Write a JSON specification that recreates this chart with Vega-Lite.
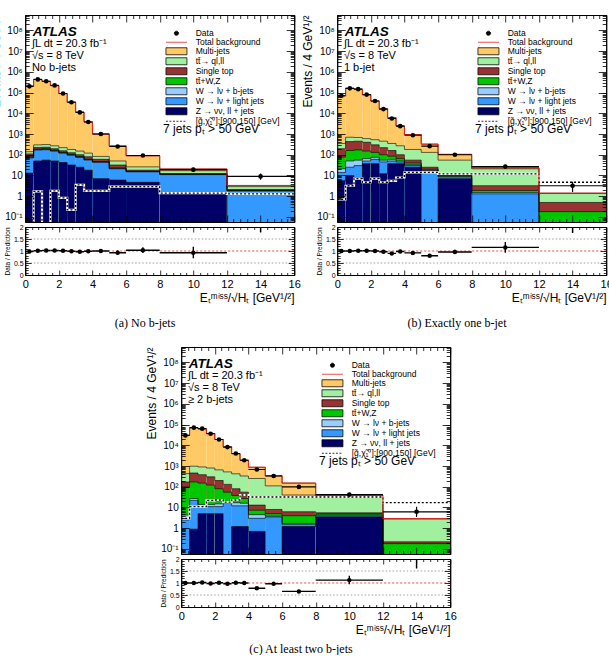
{
"$schema": "https://vega.github.io/schema/vega-lite/v6.json",
"padding": {"left": -11, "top": 10, "right": 0, "bottom": 0},
"config": {
 "font": "Liberation Sans",
 "view": {"stroke": "black", "strokeWidth": 1},
 "axis": {"grid": false, "domainColor": "black", "domainWidth": 1, "tickColor": "black", "tickWidth": 0.8, "labelColor": "black", "titleColor": "black", "labelFont": "Liberation Sans", "titleFont": "Liberation Sans", "titleFontWeight": "normal", "labelFlush": false, "labelOverlap": false, "labelBound": false},
 "legend": {"orient": "top-right", "offset": 14, "padding": 0, "labelFont": "Liberation Sans", "labelFontSize": 8.5, "labelColor": "black", "symbolSize": 49, "symbolStrokeWidth": 0.8, "symbolOpacity": 1, "rowPadding": -2.2, "labelOffset": 15, "labelLimit": 250},
 "title": {"font": "Liberation Serif", "fontSize": 12, "fontWeight": "normal", "color": "black", "anchor": "middle"}
},
"datasets": {
 "leg": [{"k":"data"},{"k":"tot"},{"k":"mj"},{"k":"tt"},{"k":"st"},{"k":"ttv"},{"k":"wb"},{"k":"wl"},{"k":"z"},{"k":"sig"}],
 "bins": [
{"p":"a","lo":0,"hi":0.5,"c":0.25,"d":200000,"dl":200000,"dh":200000,"mj":205000,"tt":140,"st":110,"ttv":80,"wb":74,"wl":70,"z":13,"s":0.05,"r":0.98,"rl":0.96,"rh":1.0},
{"p":"a","lo":0.5,"hi":1,"c":0.75,"d":430000,"dl":430000,"dh":430000,"mj":425000,"tt":300,"st":225,"ttv":188,"wb":178,"wl":170,"z":50,"s":1.7,"r":1.01,"rl":0.99,"rh":1.03},
{"p":"a","lo":1,"hi":1.5,"c":1.25,"d":350000,"dl":350000,"dh":350000,"mj":345000,"tt":310,"st":230,"ttv":195,"wb":183,"wl":175,"z":55,"s":0.05,"r":1.02,"rl":1.0,"rh":1.04},
{"p":"a","lo":1.5,"hi":2,"c":1.75,"d":220000,"dl":220000,"dh":220000,"mj":215000,"tt":270,"st":195,"ttv":165,"wb":157,"wl":150,"z":50,"s":1.8,"r":1.02,"rl":1.0,"rh":1.04},
{"p":"a","lo":2,"hi":2.5,"c":2.25,"d":90000,"dl":90000,"dh":90000,"mj":89000,"tt":220,"st":155,"ttv":130,"wb":125,"wl":120,"z":42,"s":0.83,"r":1.01,"rl":0.99,"rh":1.03},
{"p":"a","lo":2.5,"hi":3,"c":2.75,"d":34000,"dl":34000,"dh":34000,"mj":34500,"tt":180,"st":125,"ttv":103,"wb":99,"wl":95,"z":32,"s":0.22,"r":0.99,"rl":0.97,"rh":1.01},
{"p":"a","lo":3,"hi":3.5,"c":3.25,"d":11000,"dl":11000,"dh":11000,"mj":11300,"tt":150,"st":100,"ttv":81,"wb":78,"wl":75,"z":25,"s":3.5,"r":0.97,"rl":0.95,"rh":0.99},
{"p":"a","lo":3.5,"hi":4,"c":3.75,"d":3800,"dl":3800,"dh":3800,"mj":3850,"tt":120,"st":80,"ttv":61,"wb":58,"wl":56,"z":18,"s":1.8,"r":0.99,"rl":0.96,"rh":1.02},
{"p":"a","lo":4,"hi":5,"c":4.5,"d":1000,"dl":970,"dh":1030,"mj":1000,"tt":83,"st":60,"ttv":47,"wb":45,"wl":43,"z":7,"s":1.8,"r":1.0,"rl":0.96,"rh":1.04},
{"p":"a","lo":5,"hi":6,"c":5.5,"d":250,"dl":235,"dh":266,"mj":268,"tt":50,"st":32,"ttv":23,"wb":22,"wl":21,"z":6,"s":2.9,"r":0.93,"rl":0.85,"rh":1.02},
{"p":"a","lo":6,"hi":8,"c":7,"d":92,"dl":82,"dh":102,"mj":89,"tt":26,"st":18,"ttv":16,"wb":15.5,"wl":15,"z":4.7,"s":2.9,"r":1.03,"rl":0.92,"rh":1.16},
{"p":"a","lo":8,"hi":12,"c":10,"d":19,"dl":15,"dh":23.5,"mj":20.5,"tt":17,"st":12.3,"ttv":11.6,"wb":11.3,"wl":11,"z":1.4,"s":1.4,"r":0.93,"rl":0.7,"rh":1.18},
{"p":"a","lo":12,"hi":16,"c":14,"d":9,"dl":6.2,"dh":12.6,"mj":3.3,"tt":2.9,"st":2.1,"ttv":1.9,"wb":1.85,"wl":1.8,"z":0.01,"s":1.3,"r":2.7,"rl":1.78,"rh":3.9},
{"p":"b","lo":0,"hi":0.5,"c":0.25,"d":70000,"dl":70000,"dh":70000,"mj":70000,"tt":350,"st":195,"ttv":77,"wb":21,"wl":14,"z":5.6,"s":0.7,"r":1.0,"rl":0.98,"rh":1.02},
{"p":"b","lo":0.5,"hi":1,"c":0.75,"d":160000,"dl":160000,"dh":160000,"mj":160000,"tt":700,"st":430,"ttv":160,"wb":50,"wl":25,"z":10,"s":3.2,"r":1.0,"rl":0.98,"rh":1.02},
{"p":"b","lo":1,"hi":1.5,"c":1.25,"d":145000,"dl":145000,"dh":145000,"mj":144000,"tt":680,"st":450,"ttv":170,"wb":55,"wl":30,"z":8,"s":7,"r":1.01,"rl":0.99,"rh":1.03},
{"p":"b","lo":1.5,"hi":2,"c":1.75,"d":80000,"dl":80000,"dh":80000,"mj":79000,"tt":600,"st":400,"ttv":150,"wb":65,"wl":50,"z":37,"s":4.7,"r":1.01,"rl":0.99,"rh":1.03},
{"p":"b","lo":2,"hi":2.5,"c":2.25,"d":39000,"dl":39000,"dh":39000,"mj":39000,"tt":530,"st":300,"ttv":130,"wb":75,"wl":60,"z":37,"s":7,"r":1.0,"rl":0.98,"rh":1.02},
{"p":"b","lo":2.5,"hi":3,"c":2.75,"d":16000,"dl":16000,"dh":16000,"mj":16500,"tt":450,"st":220,"ttv":100,"wb":55,"wl":45,"z":12,"s":4.7,"r":0.97,"rl":0.95,"rh":0.99},
{"p":"b","lo":3,"hi":3.5,"c":3.25,"d":5600,"dl":5600,"dh":5600,"mj":6200,"tt":350,"st":160,"ttv":85,"wb":60,"wl":50,"z":37,"s":5.5,"r":0.9,"rl":0.88,"rh":0.92},
{"p":"b","lo":3.5,"hi":4,"c":3.75,"d":2400,"dl":2400,"dh":2400,"mj":2450,"tt":270,"st":100,"ttv":65,"wb":50,"wl":45,"z":37,"s":8,"r":0.98,"rl":0.95,"rh":1.01},
{"p":"b","lo":4,"hi":5,"c":4.5,"d":870,"dl":840,"dh":900,"mj":945,"tt":180,"st":55,"ttv":40,"wb":33,"wl":30,"z":25,"s":14,"r":0.92,"rl":0.88,"rh":0.96},
{"p":"b","lo":5,"hi":6,"c":5.5,"d":260,"dl":245,"dh":276,"mj":325,"tt":130,"st":25,"ttv":20,"wb":18,"wl":17,"z":0.01,"s":14,"r":0.8,"rl":0.75,"rh":0.85},
{"p":"b","lo":6,"hi":8,"c":7,"d":100,"dl":90,"dh":110,"mj":104,"tt":55,"st":12,"ttv":10,"wb":9,"wl":8.5,"z":7,"s":12,"r":0.96,"rl":0.88,"rh":1.05},
{"p":"b","lo":8,"hi":12,"c":10,"d":27,"dl":22,"dh":33,"mj":23.5,"tt":21,"st":3.2,"ttv":1.9,"wb":1.5,"wl":1.3,"z":0.01,"s":12,"r":1.15,"rl":0.93,"rh":1.38},
{"p":"b","lo":12,"hi":16,"c":14,"d":3.2,"dl":1.6,"dh":5,"mj":1.4,"tt":1.35,"st":0.5,"ttv":0.18,"wb":0.01,"wl":0.01,"z":0.01,"s":4.7,"r":2.3,"rl":1.75,"rh":3.5},
{"p":"c","lo":0,"hi":0.5,"c":0.25,"d":30000,"dl":30000,"dh":30000,"mj":30000,"tt":430,"st":170,"ttv":98,"wb":4.3,"wl":2.5,"z":0.01,"s":3,"r":1.0,"rl":0.98,"rh":1.02},
{"p":"c","lo":0.5,"hi":1,"c":0.75,"d":71000,"dl":71000,"dh":71000,"mj":71000,"tt":980,"st":460,"ttv":170,"wb":27,"wl":22,"z":0.9,"s":11,"r":1.0,"rl":0.98,"rh":1.02},
{"p":"c","lo":1,"hi":1.5,"c":1.25,"d":63000,"dl":63000,"dh":63000,"mj":62000,"tt":900,"st":380,"ttv":150,"wb":14,"wl":11,"z":5,"s":11,"r":1.02,"rl":1.0,"rh":1.04},
{"p":"c","lo":1.5,"hi":2,"c":1.75,"d":36000,"dl":36000,"dh":36000,"mj":37000,"tt":800,"st":300,"ttv":120,"wb":14,"wl":11,"z":5,"s":22,"r":0.98,"rl":0.96,"rh":1.0},
{"p":"c","lo":2,"hi":2.5,"c":2.25,"d":19000,"dl":19000,"dh":19000,"mj":19000,"tt":650,"st":200,"ttv":80,"wb":15,"wl":11,"z":5,"s":23,"r":1.01,"rl":0.99,"rh":1.03},
{"p":"c","lo":2.5,"hi":3,"c":2.75,"d":8200,"dl":8200,"dh":8200,"mj":8400,"tt":520,"st":130,"ttv":55,"wb":19,"wl":16,"z":0.01,"s":18,"r":0.97,"rl":0.95,"rh":0.99},
{"p":"c","lo":3,"hi":3.5,"c":3.25,"d":4000,"dl":4000,"dh":4000,"mj":4000,"tt":420,"st":80,"ttv":38,"wb":17,"wl":12,"z":1.2,"s":23,"r":1.01,"rl":0.98,"rh":1.04},
{"p":"c","lo":3.5,"hi":4,"c":3.75,"d":1900,"dl":1900,"dh":1900,"mj":1900,"tt":330,"st":55,"ttv":27,"wb":16,"wl":12,"z":1.2,"s":40,"r":1.0,"rl":0.97,"rh":1.03},
{"p":"c","lo":4,"hi":5,"c":4.5,"d":680,"dl":655,"dh":705,"mj":870,"tt":250,"st":13,"ttv":7.4,"wb":4.5,"wl":3,"z":0.7,"s":32,"r":0.78,"rl":0.75,"rh":0.81},
{"p":"c","lo":5,"hi":6,"c":5.5,"d":330,"dl":312,"dh":348,"mj":340,"tt":110,"st":8,"ttv":5,"wb":3.8,"wl":3.5,"z":0.01,"s":32,"r":0.97,"rl":0.93,"rh":1.01},
{"p":"c","lo":6,"hi":8,"c":7,"d":98,"dl":89,"dh":108,"mj":150,"tt":40,"st":6.2,"ttv":4,"wb":1.7,"wl":1.5,"z":1.2,"s":32,"r":0.65,"rl":0.61,"rh":0.69},
{"p":"c","lo":8,"hi":12,"c":10,"d":42,"dl":35.5,"dh":48.5,"mj":37.5,"tt":37,"st":5.5,"ttv":4.8,"wb":4.2,"wl":3.8,"z":3.5,"s":32,"r":1.12,"rl":0.95,"rh":1.3},
{"p":"c","lo":12,"hi":16,"c":14,"d":6.2,"dl":3.5,"dh":10.7,"mj":2.9,"tt":2.8,"st":0.22,"ttv":0.18,"wb":0.01,"wl":0.01,"z":0.01,"s":17,"r":2.1,"rl":1.6,"rh":3.4}
 ]
},
"spacing": 13, "center": true,
"resolve": {"scale": {"x": "independent", "y": "independent", "fill": "independent", "stroke": "independent", "shape": "independent", "strokeDash": "independent"}, "legend": {"fill": "independent", "stroke": "independent", "shape": "independent", "strokeDash": "independent"}},
"vconcat": [
{"hconcat": [
{"title": {"text": "(a)  No b-jets", "orient": "bottom", "offset": 14, "anchor": "middle"},
 "spacing": 5, "bounds": "flush",
 "resolve": {"scale": {"x": "independent", "y": "independent", "fill": "independent", "stroke": "independent", "shape": "independent", "strokeDash": "independent"}, "legend": {"fill": "independent", "stroke": "independent", "shape": "independent", "strokeDash": "independent"}},
 "vconcat": [
 {"width": 269, "height": 207,
  "resolve": {"axis": {"x": "independent", "y": "independent"}},
  "layer": [
   {"data": {"name": "bins"}, "transform": [{"filter": "datum.p=='a'"}, {"fold": ["mj","tt","st","ttv","wb","wl","z"], "as": ["k","v"]}],
    "mark": {"type": "rect", "clip": true},
    "encoding": {
     "x": {"field": "lo", "type": "quantitative", "scale": {"domain": [0,16], "nice": false, "zero": false}, "axis": {"orient": "bottom", "zindex": 1, "values": [0,0.4,0.8,1.2,1.6,2,2.4,2.8,3.2,3.6,4,4.4,4.8,5.2,5.6,6,6.4,6.8,7.2,7.6,8,8.4,8.8,9.2,9.6,10,10.4,10.8,11.2,11.6,12,12.4,12.8,13.2,13.6,14,14.4,14.8,15.2,15.6,16], "labels": false, "title": null, "tickSize": {"condition": {"test": "abs(datum.value/2-round(datum.value/2))<0.01", "value": -7}, "value": -3.5}}},
     "x2": {"field": "hi"},
     "y": {"field": "v", "type": "quantitative", "scale": {"type": "log", "domain": [0.057, 550000000], "nice": false}, "axis": {"orient": "left", "zindex": 1, "values": [0.06,0.07,0.08,0.09,0.1,0.2,0.3,0.4,0.5,0.6,0.7,0.8,0.9,1,2,3,4,5,6,7,8,9,10,20,30,40,50,60,70,80,90,100,200,300,400,500,600,700,800,900,1000,2000,3000,4000,5000,6000,7000,8000,9000,10000,20000,30000,40000,50000,60000,70000,80000,90000,100000,200000,300000,400000,500000,600000,700000,800000,900000,1000000,2000000,3000000,4000000,5000000,6000000,7000000,8000000,9000000,10000000,20000000,30000000,40000000,50000000,60000000,70000000,80000000,90000000,100000000,200000000,300000000,400000000,500000000], "labelExpr": "abs(log(datum.value)/LN10-round(log(datum.value)/LN10))>0.001 ? '' : round(log(datum.value)/LN10)==0 ? '1' : round(log(datum.value)/LN10)==1 ? '10' : round(log(datum.value)/LN10)==-1 ? '10⁻¹' : '10'+['⁰','¹','²','³','⁴','⁵','⁶','⁷','⁸','⁹'][round(log(datum.value)/LN10)]", "labelFontSize": 10, "labelPadding": 11, "tickSize": {"condition": {"test": "abs(log(datum.value)/LN10-round(log(datum.value)/LN10))<0.001", "value": -8}, "value": -4}, "title": "Events / 4 GeV¹/²", "titleAnchor": "end", "titleFontSize": 12, "titlePadding": 2}},
     "y2": {"datum": 0.01},
     "fill": {"field": "k", "type": "nominal", "scale": {"domain": ["data","tot","mj","tt","st","ttv","wb","wl","z","sig"], "range": ["black","transparent","#FFCA66","#A0F0A0","#993333","#00C800","#99CCFF","#3399FF","#000066","transparent"]}, "legend": {"title": null, "labelExpr": "{'data':'Data','tot':'Total background','mj':'Multi-jets','tt':'tt̄→ ql,ll','st':'Single top','ttv':'tt̄+W,Z','wb':'W → lν + b-jets','wl':'W → lν + light jets','z':'Z → νν, ll + jets','sig':'[g̃,χ̃₁⁰]:[900,150] [GeV]'}[datum.label]"}}
    }},
   {"data": {"name": "bins"}, "transform": [{"filter": "datum.p=='a'"}, {"fold": ["mj","tt","st","ttv","wb","wl","z"], "as": ["k","v"]}, {"fold": ["lo","hi"], "as": ["e","xv"]}],
    "mark": {"type": "line", "clip": true, "color": "black", "strokeWidth": 0.6},
    "encoding": {
     "x": {"field": "xv", "type": "quantitative", "scale": {"domain": [0,16], "nice": false, "zero": false}, "axis": {"orient": "top", "zindex": 1, "values": [0,0.4,0.8,1.2,1.6,2,2.4,2.8,3.2,3.6,4,4.4,4.8,5.2,5.6,6,6.4,6.8,7.2,7.6,8,8.4,8.8,9.2,9.6,10,10.4,10.8,11.2,11.6,12,12.4,12.8,13.2,13.6,14,14.4,14.8,15.2,15.6,16], "labels": false, "title": null, "tickSize": {"condition": {"test": "abs(datum.value/2-round(datum.value/2))<0.01", "value": -7}, "value": -3.5}}},
     "y": {"field": "v", "type": "quantitative", "scale": {"type": "log", "domain": [0.057, 550000000], "nice": false}, "axis": {"orient": "right", "zindex": 1, "values": [0.06,0.07,0.08,0.09,0.1,0.2,0.3,0.4,0.5,0.6,0.7,0.8,0.9,1,2,3,4,5,6,7,8,9,10,20,30,40,50,60,70,80,90,100,200,300,400,500,600,700,800,900,1000,2000,3000,4000,5000,6000,7000,8000,9000,10000,20000,30000,40000,50000,60000,70000,80000,90000,100000,200000,300000,400000,500000,600000,700000,800000,900000,1000000,2000000,3000000,4000000,5000000,6000000,7000000,8000000,9000000,10000000,20000000,30000000,40000000,50000000,60000000,70000000,80000000,90000000,100000000,200000000,300000000,400000000,500000000], "labels": false, "title": null, "tickSize": {"condition": {"test": "abs(log(datum.value)/LN10-round(log(datum.value)/LN10))<0.001", "value": -8}, "value": -4}}},
     "detail": {"field": "k"},
     "order": [{"field": "lo", "type": "quantitative"}, {"field": "xv", "type": "quantitative"}]
    }},
   {"data": {"name": "bins"}, "transform": [{"filter": "datum.p=='a'"}, {"fold": ["lo","hi"], "as": ["e","xv"]}],
    "mark": {"type": "line", "clip": true, "color": "white", "strokeWidth": 2.2},
    "encoding": {"x": {"field": "xv", "type": "quantitative", "axis": null}, "y": {"field": "s", "type": "quantitative", "axis": null}, "order": [{"field": "lo", "type": "quantitative"}, {"field": "xv", "type": "quantitative"}]}},
   {"data": {"name": "bins"}, "transform": [{"filter": "datum.p=='a'"}, {"fold": ["lo","hi"], "as": ["e","xv"]}],
    "mark": {"type": "line", "clip": true, "color": "black", "strokeWidth": 1.3, "strokeDash": [2,2]},
    "encoding": {"x": {"field": "xv", "type": "quantitative", "axis": null}, "y": {"field": "s", "type": "quantitative", "axis": null}, "order": [{"field": "lo", "type": "quantitative"}, {"field": "xv", "type": "quantitative"}]}},
   {"data": {"name": "bins"}, "transform": [{"filter": "datum.p=='a'"}, {"fold": ["lo","hi"], "as": ["e","xv"]}],
    "mark": {"type": "line", "clip": true, "color": "#E8201A", "strokeWidth": 1},
    "encoding": {"x": {"field": "xv", "type": "quantitative", "axis": null}, "y": {"field": "mj", "type": "quantitative", "axis": null}, "order": [{"field": "lo", "type": "quantitative"}, {"field": "xv", "type": "quantitative"}]}},
   {"data": {"name": "bins"}, "transform": [{"filter": "datum.p=='a'"}],
    "mark": {"type": "rule", "clip": true, "color": "black", "strokeWidth": 1.2},
    "encoding": {"x": {"field": "lo", "type": "quantitative", "axis": null}, "x2": {"field": "hi"}, "y": {"field": "d", "type": "quantitative", "axis": null}}},
   {"data": {"name": "bins"}, "transform": [{"filter": "datum.p=='a'"}],
    "mark": {"type": "rule", "clip": true, "color": "black", "strokeWidth": 1.2},
    "encoding": {"x": {"field": "c", "type": "quantitative", "axis": null}, "y": {"field": "dl", "type": "quantitative", "axis": null}, "y2": {"field": "dh"}}},
   {"data": {"name": "bins"}, "transform": [{"filter": "datum.p=='a'"}],
    "mark": {"type": "point", "clip": true, "filled": true, "color": "black", "opacity": 1, "size": 22},
    "encoding": {"x": {"field": "c", "type": "quantitative", "axis": null}, "y": {"field": "d", "type": "quantitative", "axis": null}}},
   {"data": {"name": "leg"},
    "mark": {"type": "point", "clip": true, "filled": true},
    "encoding": {
     "x": {"datum": -5, "type": "quantitative", "axis": null}, "y": {"datum": 1, "type": "quantitative", "axis": null},
     "fill": {"field": "k", "type": "nominal", "scale": {"domain": ["data","tot","mj","tt","st","ttv","wb","wl","z","sig"], "range": ["black","transparent","#FFCA66","#A0F0A0","#993333","#00C800","#99CCFF","#3399FF","#000066","transparent"]}, "legend": {"title": null, "labelExpr": "{'data':'Data','tot':'Total background','mj':'Multi-jets','tt':'tt̄→ ql,ll','st':'Single top','ttv':'tt̄+W,Z','wb':'W → lν + b-jets','wl':'W → lν + light jets','z':'Z → νν, ll + jets','sig':'[g̃,χ̃₁⁰]:[900,150] [GeV]'}[datum.label]"}},
     "stroke": {"field": "k", "type": "nominal", "scale": {"domain": ["data","tot","mj","tt","st","ttv","wb","wl","z","sig"], "range": ["black","#E8201A","black","black","black","black","black","black","black","black"]}, "legend": {"title": null, "labelExpr": "{'data':'Data','tot':'Total background','mj':'Multi-jets','tt':'tt̄→ ql,ll','st':'Single top','ttv':'tt̄+W,Z','wb':'W → lν + b-jets','wl':'W → lν + light jets','z':'Z → νν, ll + jets','sig':'[g̃,χ̃₁⁰]:[900,150] [GeV]'}[datum.label]"}},
     "shape": {"field": "k", "type": "nominal", "scale": {"domain": ["data","tot","mj","tt","st","ttv","wb","wl","z","sig"], "range": ["M0,-0.6A0.6,0.6,0,1,1,0,0.6A0.6,0.6,0,1,1,0,-0.6Z","M-3,0H3","M-3,-1H3V1H-3Z","M-3,-1H3V1H-3Z","M-3,-1H3V1H-3Z","M-3,-1H3V1H-3Z","M-3,-1H3V1H-3Z","M-3,-1H3V1H-3Z","M-3,-1H3V1H-3Z","M-3,0H3"]}, "legend": {"title": null, "labelExpr": "{'data':'Data','tot':'Total background','mj':'Multi-jets','tt':'tt̄→ ql,ll','st':'Single top','ttv':'tt̄+W,Z','wb':'W → lν + b-jets','wl':'W → lν + light jets','z':'Z → νν, ll + jets','sig':'[g̃,χ̃₁⁰]:[900,150] [GeV]'}[datum.label]"}},
     "strokeDash": {"field": "k", "type": "nominal", "scale": {"domain": ["data","tot","mj","tt","st","ttv","wb","wl","z","sig"], "range": [[1,0],[1,0],[1,0],[1,0],[1,0],[1,0],[1,0],[1,0],[1,0],[2,1.5]]}, "legend": {"title": null, "labelExpr": "{'data':'Data','tot':'Total background','mj':'Multi-jets','tt':'tt̄→ ql,ll','st':'Single top','ttv':'tt̄+W,Z','wb':'W → lν + b-jets','wl':'W → lν + light jets','z':'Z → νν, ll + jets','sig':'[g̃,χ̃₁⁰]:[900,150] [GeV]'}[datum.label]"}}
    }},
   {"data": {"values": [{}]}, "mark": {"type": "text", "align": "left", "baseline": "middle", "fontSize": 13.5, "fontWeight": "bold", "fontStyle": "italic"},
    "encoding": {"x": {"datum": 0.45, "type": "quantitative", "axis": null}, "y": {"datum": 80000000, "type": "quantitative", "axis": null}, "text": {"value": "ATLAS"}}},
   {"data": {"values": [{}]}, "mark": {"type": "text", "align": "left", "baseline": "middle", "fontSize": 11},
    "encoding": {"x": {"datum": 0.4, "type": "quantitative", "axis": null}, "y": {"datum": 21000000, "type": "quantitative", "axis": null}, "text": {"value": "∫L dt = 20.3 fb⁻¹"}}},
   {"data": {"values": [{}]}, "mark": {"type": "text", "align": "left", "baseline": "middle", "fontSize": 11},
    "encoding": {"x": {"datum": 0.4, "type": "quantitative", "axis": null}, "y": {"datum": 5500000, "type": "quantitative", "axis": null}, "text": {"value": "√s = 8 TeV"}}},
   {"data": {"values": [{}]}, "mark": {"type": "text", "align": "left", "baseline": "middle", "fontSize": 11},
    "encoding": {"x": {"datum": 0.4, "type": "quantitative", "axis": null}, "y": {"datum": 1600000, "type": "quantitative", "axis": null}, "text": {"value": "No b-jets"}}},
   {"data": {"values": [{}]}, "mark": {"type": "text", "align": "left", "baseline": "middle", "fontSize": 12},
    "encoding": {"x": {"datum": 8.2, "type": "quantitative", "axis": null}, "y": {"datum": 1700, "type": "quantitative", "axis": null}, "text": {"value": "7 jets pₜ > 50 GeV"}}}
  ]},
 {"width": 269, "height": 48,
  "resolve": {"axis": {"x": "independent", "y": "independent"}},
  "layer": [
   {"data": {"values": [{}]}, "mark": {"type": "rule", "color": "#777777", "strokeWidth": 0.7, "strokeDash": [1.5,2]},
    "encoding": {"y": {"datum": 0.5, "type": "quantitative", "scale": {"domain": [0,2], "nice": false, "zero": false}, "axis": null}}},
   {"data": {"values": [{}]}, "mark": {"type": "rule", "color": "#777777", "strokeWidth": 0.7, "strokeDash": [1.5,2]},
    "encoding": {"y": {"datum": 1.5, "type": "quantitative", "axis": null}}},
   {"data": {"values": [{}]}, "mark": {"type": "rule", "color": "#E8201A", "strokeWidth": 0.8, "strokeDash": [2,2]},
    "encoding": {"y": {"datum": 1, "type": "quantitative", "axis": null}}},
   {"data": {"name": "bins"}, "transform": [{"filter": "datum.p=='a'"}],
    "mark": {"type": "rule", "clip": true, "color": "black", "strokeWidth": 1.4},
    "encoding": {
     "x": {"field": "lo", "type": "quantitative", "scale": {"domain": [0,16], "nice": false, "zero": false}, "axis": {"orient": "bottom", "zindex": 1, "values": [0,0.4,0.8,1.2,1.6,2,2.4,2.8,3.2,3.6,4,4.4,4.8,5.2,5.6,6,6.4,6.8,7.2,7.6,8,8.4,8.8,9.2,9.6,10,10.4,10.8,11.2,11.6,12,12.4,12.8,13.2,13.6,14,14.4,14.8,15.2,15.6,16], "labelExpr": "abs(datum.value/2-round(datum.value/2))<0.01 ? format(datum.value,'d') : ''", "labelFontSize": 11, "labelPadding": 8, "tickSize": {"condition": {"test": "abs(datum.value/2-round(datum.value/2))<0.01", "value": -5}, "value": -2.5}, "title": "Eₜᵐⁱˢˢ/√Hₜ [GeV¹/²]", "titleAnchor": "end", "titleFontSize": 12, "titlePadding": 1}},
     "x2": {"field": "hi"},
     "y": {"field": "r", "type": "quantitative", "scale": {"domain": [0,2], "nice": false, "zero": false}, "axis": {"orient": "left", "zindex": 1, "values": [0,0.1,0.2,0.3,0.4,0.5,0.6,0.7,0.8,0.9,1,1.1,1.2,1.3,1.4,1.5,1.6,1.7,1.8,1.9,2], "labelExpr": "abs(datum.value*2-round(datum.value*2))<0.01 ? format(datum.value,'~g') : ''", "labelFontSize": 7, "labelPadding": 8, "tickSize": {"condition": {"test": "abs(datum.value*2-round(datum.value*2))<0.01", "value": -6}, "value": -3}, "title": "Data / Prediction", "titleFontSize": 6.5, "titlePadding": 3}}
    }},
   {"data": {"name": "bins"}, "transform": [{"filter": "datum.p=='a'"}],
    "mark": {"type": "rule", "clip": true, "color": "black", "strokeWidth": 1.4},
    "encoding": {
     "x": {"field": "c", "type": "quantitative", "axis": {"orient": "top", "zindex": 1, "values": [0,0.4,0.8,1.2,1.6,2,2.4,2.8,3.2,3.6,4,4.4,4.8,5.2,5.6,6,6.4,6.8,7.2,7.6,8,8.4,8.8,9.2,9.6,10,10.4,10.8,11.2,11.6,12,12.4,12.8,13.2,13.6,14,14.4,14.8,15.2,15.6,16], "labels": false, "title": null, "tickSize": {"condition": {"test": "abs(datum.value/2-round(datum.value/2))<0.01", "value": -5}, "value": -2.5}}},
     "y": {"field": "rl", "type": "quantitative", "axis": {"orient": "right", "zindex": 1, "values": [0,0.1,0.2,0.3,0.4,0.5,0.6,0.7,0.8,0.9,1,1.1,1.2,1.3,1.4,1.5,1.6,1.7,1.8,1.9,2], "labels": false, "title": null, "tickSize": {"condition": {"test": "abs(datum.value*2-round(datum.value*2))<0.01", "value": -6}, "value": -3}}},
     "y2": {"field": "rh"}
    }},
   {"data": {"name": "bins"}, "transform": [{"filter": "datum.p=='a'"}],
    "mark": {"type": "point", "clip": true, "filled": true, "color": "black", "opacity": 1, "size": 20},
    "encoding": {"x": {"field": "c", "type": "quantitative", "axis": null}, "y": {"field": "r", "type": "quantitative", "axis": null}}}
  ]}
 ]},
{"title": {"text": "(b)  Exactly one b-jet", "orient": "bottom", "offset": 14, "anchor": "middle"},
 "spacing": 5, "bounds": "flush",
 "resolve": {"scale": {"x": "independent", "y": "independent", "fill": "independent", "stroke": "independent", "shape": "independent", "strokeDash": "independent"}, "legend": {"fill": "independent", "stroke": "independent", "shape": "independent", "strokeDash": "independent"}},
 "vconcat": [
 {"width": 269, "height": 207,
  "resolve": {"axis": {"x": "independent", "y": "independent"}},
  "layer": [
   {"data": {"name": "bins"}, "transform": [{"filter": "datum.p=='b'"}, {"fold": ["mj","tt","st","ttv","wb","wl","z"], "as": ["k","v"]}],
    "mark": {"type": "rect", "clip": true},
    "encoding": {
     "x": {"field": "lo", "type": "quantitative", "scale": {"domain": [0,16], "nice": false, "zero": false}, "axis": {"orient": "bottom", "zindex": 1, "values": [0,0.4,0.8,1.2,1.6,2,2.4,2.8,3.2,3.6,4,4.4,4.8,5.2,5.6,6,6.4,6.8,7.2,7.6,8,8.4,8.8,9.2,9.6,10,10.4,10.8,11.2,11.6,12,12.4,12.8,13.2,13.6,14,14.4,14.8,15.2,15.6,16], "labels": false, "title": null, "tickSize": {"condition": {"test": "abs(datum.value/2-round(datum.value/2))<0.01", "value": -7}, "value": -3.5}}},
     "x2": {"field": "hi"},
     "y": {"field": "v", "type": "quantitative", "scale": {"type": "log", "domain": [0.057, 550000000], "nice": false}, "axis": {"orient": "left", "zindex": 1, "values": [0.06,0.07,0.08,0.09,0.1,0.2,0.3,0.4,0.5,0.6,0.7,0.8,0.9,1,2,3,4,5,6,7,8,9,10,20,30,40,50,60,70,80,90,100,200,300,400,500,600,700,800,900,1000,2000,3000,4000,5000,6000,7000,8000,9000,10000,20000,30000,40000,50000,60000,70000,80000,90000,100000,200000,300000,400000,500000,600000,700000,800000,900000,1000000,2000000,3000000,4000000,5000000,6000000,7000000,8000000,9000000,10000000,20000000,30000000,40000000,50000000,60000000,70000000,80000000,90000000,100000000,200000000,300000000,400000000,500000000], "labelExpr": "abs(log(datum.value)/LN10-round(log(datum.value)/LN10))>0.001 ? '' : round(log(datum.value)/LN10)==0 ? '1' : round(log(datum.value)/LN10)==1 ? '10' : round(log(datum.value)/LN10)==-1 ? '10⁻¹' : '10'+['⁰','¹','²','³','⁴','⁵','⁶','⁷','⁸','⁹'][round(log(datum.value)/LN10)]", "labelFontSize": 10, "labelPadding": 11, "tickSize": {"condition": {"test": "abs(log(datum.value)/LN10-round(log(datum.value)/LN10))<0.001", "value": -8}, "value": -4}, "title": "Events / 4 GeV¹/²", "titleAnchor": "end", "titleFontSize": 12, "titlePadding": 2}},
     "y2": {"datum": 0.01},
     "fill": {"field": "k", "type": "nominal", "scale": {"domain": ["data","tot","mj","tt","st","ttv","wb","wl","z","sig"], "range": ["black","transparent","#FFCA66","#A0F0A0","#993333","#00C800","#99CCFF","#3399FF","#000066","transparent"]}, "legend": {"title": null, "labelExpr": "{'data':'Data','tot':'Total background','mj':'Multi-jets','tt':'tt̄→ ql,ll','st':'Single top','ttv':'tt̄+W,Z','wb':'W → lν + b-jets','wl':'W → lν + light jets','z':'Z → νν, ll + jets','sig':'[g̃,χ̃₁⁰]:[900,150] [GeV]'}[datum.label]"}}
    }},
   {"data": {"name": "bins"}, "transform": [{"filter": "datum.p=='b'"}, {"fold": ["mj","tt","st","ttv","wb","wl","z"], "as": ["k","v"]}, {"fold": ["lo","hi"], "as": ["e","xv"]}],
    "mark": {"type": "line", "clip": true, "color": "black", "strokeWidth": 0.6},
    "encoding": {
     "x": {"field": "xv", "type": "quantitative", "scale": {"domain": [0,16], "nice": false, "zero": false}, "axis": {"orient": "top", "zindex": 1, "values": [0,0.4,0.8,1.2,1.6,2,2.4,2.8,3.2,3.6,4,4.4,4.8,5.2,5.6,6,6.4,6.8,7.2,7.6,8,8.4,8.8,9.2,9.6,10,10.4,10.8,11.2,11.6,12,12.4,12.8,13.2,13.6,14,14.4,14.8,15.2,15.6,16], "labels": false, "title": null, "tickSize": {"condition": {"test": "abs(datum.value/2-round(datum.value/2))<0.01", "value": -7}, "value": -3.5}}},
     "y": {"field": "v", "type": "quantitative", "scale": {"type": "log", "domain": [0.057, 550000000], "nice": false}, "axis": {"orient": "right", "zindex": 1, "values": [0.06,0.07,0.08,0.09,0.1,0.2,0.3,0.4,0.5,0.6,0.7,0.8,0.9,1,2,3,4,5,6,7,8,9,10,20,30,40,50,60,70,80,90,100,200,300,400,500,600,700,800,900,1000,2000,3000,4000,5000,6000,7000,8000,9000,10000,20000,30000,40000,50000,60000,70000,80000,90000,100000,200000,300000,400000,500000,600000,700000,800000,900000,1000000,2000000,3000000,4000000,5000000,6000000,7000000,8000000,9000000,10000000,20000000,30000000,40000000,50000000,60000000,70000000,80000000,90000000,100000000,200000000,300000000,400000000,500000000], "labels": false, "title": null, "tickSize": {"condition": {"test": "abs(log(datum.value)/LN10-round(log(datum.value)/LN10))<0.001", "value": -8}, "value": -4}}},
     "detail": {"field": "k"},
     "order": [{"field": "lo", "type": "quantitative"}, {"field": "xv", "type": "quantitative"}]
    }},
   {"data": {"name": "bins"}, "transform": [{"filter": "datum.p=='b'"}, {"fold": ["lo","hi"], "as": ["e","xv"]}],
    "mark": {"type": "line", "clip": true, "color": "white", "strokeWidth": 2.2},
    "encoding": {"x": {"field": "xv", "type": "quantitative", "axis": null}, "y": {"field": "s", "type": "quantitative", "axis": null}, "order": [{"field": "lo", "type": "quantitative"}, {"field": "xv", "type": "quantitative"}]}},
   {"data": {"name": "bins"}, "transform": [{"filter": "datum.p=='b'"}, {"fold": ["lo","hi"], "as": ["e","xv"]}],
    "mark": {"type": "line", "clip": true, "color": "black", "strokeWidth": 1.3, "strokeDash": [2,2]},
    "encoding": {"x": {"field": "xv", "type": "quantitative", "axis": null}, "y": {"field": "s", "type": "quantitative", "axis": null}, "order": [{"field": "lo", "type": "quantitative"}, {"field": "xv", "type": "quantitative"}]}},
   {"data": {"name": "bins"}, "transform": [{"filter": "datum.p=='b'"}, {"fold": ["lo","hi"], "as": ["e","xv"]}],
    "mark": {"type": "line", "clip": true, "color": "#E8201A", "strokeWidth": 1},
    "encoding": {"x": {"field": "xv", "type": "quantitative", "axis": null}, "y": {"field": "mj", "type": "quantitative", "axis": null}, "order": [{"field": "lo", "type": "quantitative"}, {"field": "xv", "type": "quantitative"}]}},
   {"data": {"name": "bins"}, "transform": [{"filter": "datum.p=='b'"}],
    "mark": {"type": "rule", "clip": true, "color": "black", "strokeWidth": 1.2},
    "encoding": {"x": {"field": "lo", "type": "quantitative", "axis": null}, "x2": {"field": "hi"}, "y": {"field": "d", "type": "quantitative", "axis": null}}},
   {"data": {"name": "bins"}, "transform": [{"filter": "datum.p=='b'"}],
    "mark": {"type": "rule", "clip": true, "color": "black", "strokeWidth": 1.2},
    "encoding": {"x": {"field": "c", "type": "quantitative", "axis": null}, "y": {"field": "dl", "type": "quantitative", "axis": null}, "y2": {"field": "dh"}}},
   {"data": {"name": "bins"}, "transform": [{"filter": "datum.p=='b'"}],
    "mark": {"type": "point", "clip": true, "filled": true, "color": "black", "opacity": 1, "size": 22},
    "encoding": {"x": {"field": "c", "type": "quantitative", "axis": null}, "y": {"field": "d", "type": "quantitative", "axis": null}}},
   {"data": {"name": "leg"},
    "mark": {"type": "point", "clip": true, "filled": true},
    "encoding": {
     "x": {"datum": -5, "type": "quantitative", "axis": null}, "y": {"datum": 1, "type": "quantitative", "axis": null},
     "fill": {"field": "k", "type": "nominal", "scale": {"domain": ["data","tot","mj","tt","st","ttv","wb","wl","z","sig"], "range": ["black","transparent","#FFCA66","#A0F0A0","#993333","#00C800","#99CCFF","#3399FF","#000066","transparent"]}, "legend": {"title": null, "labelExpr": "{'data':'Data','tot':'Total background','mj':'Multi-jets','tt':'tt̄→ ql,ll','st':'Single top','ttv':'tt̄+W,Z','wb':'W → lν + b-jets','wl':'W → lν + light jets','z':'Z → νν, ll + jets','sig':'[g̃,χ̃₁⁰]:[900,150] [GeV]'}[datum.label]"}},
     "stroke": {"field": "k", "type": "nominal", "scale": {"domain": ["data","tot","mj","tt","st","ttv","wb","wl","z","sig"], "range": ["black","#E8201A","black","black","black","black","black","black","black","black"]}, "legend": {"title": null, "labelExpr": "{'data':'Data','tot':'Total background','mj':'Multi-jets','tt':'tt̄→ ql,ll','st':'Single top','ttv':'tt̄+W,Z','wb':'W → lν + b-jets','wl':'W → lν + light jets','z':'Z → νν, ll + jets','sig':'[g̃,χ̃₁⁰]:[900,150] [GeV]'}[datum.label]"}},
     "shape": {"field": "k", "type": "nominal", "scale": {"domain": ["data","tot","mj","tt","st","ttv","wb","wl","z","sig"], "range": ["M0,-0.6A0.6,0.6,0,1,1,0,0.6A0.6,0.6,0,1,1,0,-0.6Z","M-3,0H3","M-3,-1H3V1H-3Z","M-3,-1H3V1H-3Z","M-3,-1H3V1H-3Z","M-3,-1H3V1H-3Z","M-3,-1H3V1H-3Z","M-3,-1H3V1H-3Z","M-3,-1H3V1H-3Z","M-3,0H3"]}, "legend": {"title": null, "labelExpr": "{'data':'Data','tot':'Total background','mj':'Multi-jets','tt':'tt̄→ ql,ll','st':'Single top','ttv':'tt̄+W,Z','wb':'W → lν + b-jets','wl':'W → lν + light jets','z':'Z → νν, ll + jets','sig':'[g̃,χ̃₁⁰]:[900,150] [GeV]'}[datum.label]"}},
     "strokeDash": {"field": "k", "type": "nominal", "scale": {"domain": ["data","tot","mj","tt","st","ttv","wb","wl","z","sig"], "range": [[1,0],[1,0],[1,0],[1,0],[1,0],[1,0],[1,0],[1,0],[1,0],[2,1.5]]}, "legend": {"title": null, "labelExpr": "{'data':'Data','tot':'Total background','mj':'Multi-jets','tt':'tt̄→ ql,ll','st':'Single top','ttv':'tt̄+W,Z','wb':'W → lν + b-jets','wl':'W → lν + light jets','z':'Z → νν, ll + jets','sig':'[g̃,χ̃₁⁰]:[900,150] [GeV]'}[datum.label]"}}
    }},
   {"data": {"values": [{}]}, "mark": {"type": "text", "align": "left", "baseline": "middle", "fontSize": 13.5, "fontWeight": "bold", "fontStyle": "italic"},
    "encoding": {"x": {"datum": 0.45, "type": "quantitative", "axis": null}, "y": {"datum": 80000000, "type": "quantitative", "axis": null}, "text": {"value": "ATLAS"}}},
   {"data": {"values": [{}]}, "mark": {"type": "text", "align": "left", "baseline": "middle", "fontSize": 11},
    "encoding": {"x": {"datum": 0.4, "type": "quantitative", "axis": null}, "y": {"datum": 21000000, "type": "quantitative", "axis": null}, "text": {"value": "∫L dt = 20.3 fb⁻¹"}}},
   {"data": {"values": [{}]}, "mark": {"type": "text", "align": "left", "baseline": "middle", "fontSize": 11},
    "encoding": {"x": {"datum": 0.4, "type": "quantitative", "axis": null}, "y": {"datum": 5500000, "type": "quantitative", "axis": null}, "text": {"value": "√s = 8 TeV"}}},
   {"data": {"values": [{}]}, "mark": {"type": "text", "align": "left", "baseline": "middle", "fontSize": 11},
    "encoding": {"x": {"datum": 0.4, "type": "quantitative", "axis": null}, "y": {"datum": 1600000, "type": "quantitative", "axis": null}, "text": {"value": "1 b-jet"}}},
   {"data": {"values": [{}]}, "mark": {"type": "text", "align": "left", "baseline": "middle", "fontSize": 12},
    "encoding": {"x": {"datum": 8.2, "type": "quantitative", "axis": null}, "y": {"datum": 1700, "type": "quantitative", "axis": null}, "text": {"value": "7 jets pₜ > 50 GeV"}}}
  ]},
 {"width": 269, "height": 48,
  "resolve": {"axis": {"x": "independent", "y": "independent"}},
  "layer": [
   {"data": {"values": [{}]}, "mark": {"type": "rule", "color": "#777777", "strokeWidth": 0.7, "strokeDash": [1.5,2]},
    "encoding": {"y": {"datum": 0.5, "type": "quantitative", "scale": {"domain": [0,2], "nice": false, "zero": false}, "axis": null}}},
   {"data": {"values": [{}]}, "mark": {"type": "rule", "color": "#777777", "strokeWidth": 0.7, "strokeDash": [1.5,2]},
    "encoding": {"y": {"datum": 1.5, "type": "quantitative", "axis": null}}},
   {"data": {"values": [{}]}, "mark": {"type": "rule", "color": "#E8201A", "strokeWidth": 0.8, "strokeDash": [2,2]},
    "encoding": {"y": {"datum": 1, "type": "quantitative", "axis": null}}},
   {"data": {"name": "bins"}, "transform": [{"filter": "datum.p=='b'"}],
    "mark": {"type": "rule", "clip": true, "color": "black", "strokeWidth": 1.4},
    "encoding": {
     "x": {"field": "lo", "type": "quantitative", "scale": {"domain": [0,16], "nice": false, "zero": false}, "axis": {"orient": "bottom", "zindex": 1, "values": [0,0.4,0.8,1.2,1.6,2,2.4,2.8,3.2,3.6,4,4.4,4.8,5.2,5.6,6,6.4,6.8,7.2,7.6,8,8.4,8.8,9.2,9.6,10,10.4,10.8,11.2,11.6,12,12.4,12.8,13.2,13.6,14,14.4,14.8,15.2,15.6,16], "labelExpr": "abs(datum.value/2-round(datum.value/2))<0.01 ? format(datum.value,'d') : ''", "labelFontSize": 11, "labelPadding": 8, "tickSize": {"condition": {"test": "abs(datum.value/2-round(datum.value/2))<0.01", "value": -5}, "value": -2.5}, "title": "Eₜᵐⁱˢˢ/√Hₜ [GeV¹/²]", "titleAnchor": "end", "titleFontSize": 12, "titlePadding": 1}},
     "x2": {"field": "hi"},
     "y": {"field": "r", "type": "quantitative", "scale": {"domain": [0,2], "nice": false, "zero": false}, "axis": {"orient": "left", "zindex": 1, "values": [0,0.1,0.2,0.3,0.4,0.5,0.6,0.7,0.8,0.9,1,1.1,1.2,1.3,1.4,1.5,1.6,1.7,1.8,1.9,2], "labelExpr": "abs(datum.value*2-round(datum.value*2))<0.01 ? format(datum.value,'~g') : ''", "labelFontSize": 7, "labelPadding": 8, "tickSize": {"condition": {"test": "abs(datum.value*2-round(datum.value*2))<0.01", "value": -6}, "value": -3}, "title": "Data / Prediction", "titleFontSize": 6.5, "titlePadding": 3}}
    }},
   {"data": {"name": "bins"}, "transform": [{"filter": "datum.p=='b'"}],
    "mark": {"type": "rule", "clip": true, "color": "black", "strokeWidth": 1.4},
    "encoding": {
     "x": {"field": "c", "type": "quantitative", "axis": {"orient": "top", "zindex": 1, "values": [0,0.4,0.8,1.2,1.6,2,2.4,2.8,3.2,3.6,4,4.4,4.8,5.2,5.6,6,6.4,6.8,7.2,7.6,8,8.4,8.8,9.2,9.6,10,10.4,10.8,11.2,11.6,12,12.4,12.8,13.2,13.6,14,14.4,14.8,15.2,15.6,16], "labels": false, "title": null, "tickSize": {"condition": {"test": "abs(datum.value/2-round(datum.value/2))<0.01", "value": -5}, "value": -2.5}}},
     "y": {"field": "rl", "type": "quantitative", "axis": {"orient": "right", "zindex": 1, "values": [0,0.1,0.2,0.3,0.4,0.5,0.6,0.7,0.8,0.9,1,1.1,1.2,1.3,1.4,1.5,1.6,1.7,1.8,1.9,2], "labels": false, "title": null, "tickSize": {"condition": {"test": "abs(datum.value*2-round(datum.value*2))<0.01", "value": -6}, "value": -3}}},
     "y2": {"field": "rh"}
    }},
   {"data": {"name": "bins"}, "transform": [{"filter": "datum.p=='b'"}],
    "mark": {"type": "point", "clip": true, "filled": true, "color": "black", "opacity": 1, "size": 20},
    "encoding": {"x": {"field": "c", "type": "quantitative", "axis": null}, "y": {"field": "r", "type": "quantitative", "axis": null}}}
  ]}
 ]}
], "spacing": 0,
 "resolve": {"scale": {"x": "independent", "y": "independent", "fill": "independent", "stroke": "independent", "shape": "independent", "strokeDash": "independent"}, "legend": {"fill": "independent", "stroke": "independent", "shape": "independent", "strokeDash": "independent"}}},
{"title": {"text": "(c)  At least two b-jets", "orient": "bottom", "offset": 8, "anchor": "middle"},
 "spacing": 5, "bounds": "flush",
 "resolve": {"scale": {"x": "independent", "y": "independent", "fill": "independent", "stroke": "independent", "shape": "independent", "strokeDash": "independent"}, "legend": {"fill": "independent", "stroke": "independent", "shape": "independent", "strokeDash": "independent"}},
 "vconcat": [
 {"width": 269, "height": 207,
  "resolve": {"axis": {"x": "independent", "y": "independent"}},
  "layer": [
   {"data": {"name": "bins"}, "transform": [{"filter": "datum.p=='c'"}, {"fold": ["mj","tt","st","ttv","wb","wl","z"], "as": ["k","v"]}],
    "mark": {"type": "rect", "clip": true},
    "encoding": {
     "x": {"field": "lo", "type": "quantitative", "scale": {"domain": [0,16], "nice": false, "zero": false}, "axis": {"orient": "bottom", "zindex": 1, "values": [0,0.4,0.8,1.2,1.6,2,2.4,2.8,3.2,3.6,4,4.4,4.8,5.2,5.6,6,6.4,6.8,7.2,7.6,8,8.4,8.8,9.2,9.6,10,10.4,10.8,11.2,11.6,12,12.4,12.8,13.2,13.6,14,14.4,14.8,15.2,15.6,16], "labels": false, "title": null, "tickSize": {"condition": {"test": "abs(datum.value/2-round(datum.value/2))<0.01", "value": -7}, "value": -3.5}}},
     "x2": {"field": "hi"},
     "y": {"field": "v", "type": "quantitative", "scale": {"type": "log", "domain": [0.057, 550000000], "nice": false}, "axis": {"orient": "left", "zindex": 1, "values": [0.06,0.07,0.08,0.09,0.1,0.2,0.3,0.4,0.5,0.6,0.7,0.8,0.9,1,2,3,4,5,6,7,8,9,10,20,30,40,50,60,70,80,90,100,200,300,400,500,600,700,800,900,1000,2000,3000,4000,5000,6000,7000,8000,9000,10000,20000,30000,40000,50000,60000,70000,80000,90000,100000,200000,300000,400000,500000,600000,700000,800000,900000,1000000,2000000,3000000,4000000,5000000,6000000,7000000,8000000,9000000,10000000,20000000,30000000,40000000,50000000,60000000,70000000,80000000,90000000,100000000,200000000,300000000,400000000,500000000], "labelExpr": "abs(log(datum.value)/LN10-round(log(datum.value)/LN10))>0.001 ? '' : round(log(datum.value)/LN10)==0 ? '1' : round(log(datum.value)/LN10)==1 ? '10' : round(log(datum.value)/LN10)==-1 ? '10⁻¹' : '10'+['⁰','¹','²','³','⁴','⁵','⁶','⁷','⁸','⁹'][round(log(datum.value)/LN10)]", "labelFontSize": 10, "labelPadding": 11, "tickSize": {"condition": {"test": "abs(log(datum.value)/LN10-round(log(datum.value)/LN10))<0.001", "value": -8}, "value": -4}, "title": "Events / 4 GeV¹/²", "titleAnchor": "end", "titleFontSize": 12, "titlePadding": 2}},
     "y2": {"datum": 0.01},
     "fill": {"field": "k", "type": "nominal", "scale": {"domain": ["data","tot","mj","tt","st","ttv","wb","wl","z","sig"], "range": ["black","transparent","#FFCA66","#A0F0A0","#993333","#00C800","#99CCFF","#3399FF","#000066","transparent"]}, "legend": {"title": null, "labelExpr": "{'data':'Data','tot':'Total background','mj':'Multi-jets','tt':'tt̄→ ql,ll','st':'Single top','ttv':'tt̄+W,Z','wb':'W → lν + b-jets','wl':'W → lν + light jets','z':'Z → νν, ll + jets','sig':'[g̃,χ̃₁⁰]:[900,150] [GeV]'}[datum.label]"}}
    }},
   {"data": {"name": "bins"}, "transform": [{"filter": "datum.p=='c'"}, {"fold": ["mj","tt","st","ttv","wb","wl","z"], "as": ["k","v"]}, {"fold": ["lo","hi"], "as": ["e","xv"]}],
    "mark": {"type": "line", "clip": true, "color": "black", "strokeWidth": 0.6},
    "encoding": {
     "x": {"field": "xv", "type": "quantitative", "scale": {"domain": [0,16], "nice": false, "zero": false}, "axis": {"orient": "top", "zindex": 1, "values": [0,0.4,0.8,1.2,1.6,2,2.4,2.8,3.2,3.6,4,4.4,4.8,5.2,5.6,6,6.4,6.8,7.2,7.6,8,8.4,8.8,9.2,9.6,10,10.4,10.8,11.2,11.6,12,12.4,12.8,13.2,13.6,14,14.4,14.8,15.2,15.6,16], "labels": false, "title": null, "tickSize": {"condition": {"test": "abs(datum.value/2-round(datum.value/2))<0.01", "value": -7}, "value": -3.5}}},
     "y": {"field": "v", "type": "quantitative", "scale": {"type": "log", "domain": [0.057, 550000000], "nice": false}, "axis": {"orient": "right", "zindex": 1, "values": [0.06,0.07,0.08,0.09,0.1,0.2,0.3,0.4,0.5,0.6,0.7,0.8,0.9,1,2,3,4,5,6,7,8,9,10,20,30,40,50,60,70,80,90,100,200,300,400,500,600,700,800,900,1000,2000,3000,4000,5000,6000,7000,8000,9000,10000,20000,30000,40000,50000,60000,70000,80000,90000,100000,200000,300000,400000,500000,600000,700000,800000,900000,1000000,2000000,3000000,4000000,5000000,6000000,7000000,8000000,9000000,10000000,20000000,30000000,40000000,50000000,60000000,70000000,80000000,90000000,100000000,200000000,300000000,400000000,500000000], "labels": false, "title": null, "tickSize": {"condition": {"test": "abs(log(datum.value)/LN10-round(log(datum.value)/LN10))<0.001", "value": -8}, "value": -4}}},
     "detail": {"field": "k"},
     "order": [{"field": "lo", "type": "quantitative"}, {"field": "xv", "type": "quantitative"}]
    }},
   {"data": {"name": "bins"}, "transform": [{"filter": "datum.p=='c'"}, {"fold": ["lo","hi"], "as": ["e","xv"]}],
    "mark": {"type": "line", "clip": true, "color": "white", "strokeWidth": 2.2},
    "encoding": {"x": {"field": "xv", "type": "quantitative", "axis": null}, "y": {"field": "s", "type": "quantitative", "axis": null}, "order": [{"field": "lo", "type": "quantitative"}, {"field": "xv", "type": "quantitative"}]}},
   {"data": {"name": "bins"}, "transform": [{"filter": "datum.p=='c'"}, {"fold": ["lo","hi"], "as": ["e","xv"]}],
    "mark": {"type": "line", "clip": true, "color": "black", "strokeWidth": 1.3, "strokeDash": [2,2]},
    "encoding": {"x": {"field": "xv", "type": "quantitative", "axis": null}, "y": {"field": "s", "type": "quantitative", "axis": null}, "order": [{"field": "lo", "type": "quantitative"}, {"field": "xv", "type": "quantitative"}]}},
   {"data": {"name": "bins"}, "transform": [{"filter": "datum.p=='c'"}, {"fold": ["lo","hi"], "as": ["e","xv"]}],
    "mark": {"type": "line", "clip": true, "color": "#E8201A", "strokeWidth": 1},
    "encoding": {"x": {"field": "xv", "type": "quantitative", "axis": null}, "y": {"field": "mj", "type": "quantitative", "axis": null}, "order": [{"field": "lo", "type": "quantitative"}, {"field": "xv", "type": "quantitative"}]}},
   {"data": {"name": "bins"}, "transform": [{"filter": "datum.p=='c'"}],
    "mark": {"type": "rule", "clip": true, "color": "black", "strokeWidth": 1.2},
    "encoding": {"x": {"field": "lo", "type": "quantitative", "axis": null}, "x2": {"field": "hi"}, "y": {"field": "d", "type": "quantitative", "axis": null}}},
   {"data": {"name": "bins"}, "transform": [{"filter": "datum.p=='c'"}],
    "mark": {"type": "rule", "clip": true, "color": "black", "strokeWidth": 1.2},
    "encoding": {"x": {"field": "c", "type": "quantitative", "axis": null}, "y": {"field": "dl", "type": "quantitative", "axis": null}, "y2": {"field": "dh"}}},
   {"data": {"name": "bins"}, "transform": [{"filter": "datum.p=='c'"}],
    "mark": {"type": "point", "clip": true, "filled": true, "color": "black", "opacity": 1, "size": 22},
    "encoding": {"x": {"field": "c", "type": "quantitative", "axis": null}, "y": {"field": "d", "type": "quantitative", "axis": null}}},
   {"data": {"name": "leg"},
    "mark": {"type": "point", "clip": true, "filled": true},
    "encoding": {
     "x": {"datum": -5, "type": "quantitative", "axis": null}, "y": {"datum": 1, "type": "quantitative", "axis": null},
     "fill": {"field": "k", "type": "nominal", "scale": {"domain": ["data","tot","mj","tt","st","ttv","wb","wl","z","sig"], "range": ["black","transparent","#FFCA66","#A0F0A0","#993333","#00C800","#99CCFF","#3399FF","#000066","transparent"]}, "legend": {"title": null, "labelExpr": "{'data':'Data','tot':'Total background','mj':'Multi-jets','tt':'tt̄→ ql,ll','st':'Single top','ttv':'tt̄+W,Z','wb':'W → lν + b-jets','wl':'W → lν + light jets','z':'Z → νν, ll + jets','sig':'[g̃,χ̃₁⁰]:[900,150] [GeV]'}[datum.label]"}},
     "stroke": {"field": "k", "type": "nominal", "scale": {"domain": ["data","tot","mj","tt","st","ttv","wb","wl","z","sig"], "range": ["black","#E8201A","black","black","black","black","black","black","black","black"]}, "legend": {"title": null, "labelExpr": "{'data':'Data','tot':'Total background','mj':'Multi-jets','tt':'tt̄→ ql,ll','st':'Single top','ttv':'tt̄+W,Z','wb':'W → lν + b-jets','wl':'W → lν + light jets','z':'Z → νν, ll + jets','sig':'[g̃,χ̃₁⁰]:[900,150] [GeV]'}[datum.label]"}},
     "shape": {"field": "k", "type": "nominal", "scale": {"domain": ["data","tot","mj","tt","st","ttv","wb","wl","z","sig"], "range": ["M0,-0.6A0.6,0.6,0,1,1,0,0.6A0.6,0.6,0,1,1,0,-0.6Z","M-3,0H3","M-3,-1H3V1H-3Z","M-3,-1H3V1H-3Z","M-3,-1H3V1H-3Z","M-3,-1H3V1H-3Z","M-3,-1H3V1H-3Z","M-3,-1H3V1H-3Z","M-3,-1H3V1H-3Z","M-3,0H3"]}, "legend": {"title": null, "labelExpr": "{'data':'Data','tot':'Total background','mj':'Multi-jets','tt':'tt̄→ ql,ll','st':'Single top','ttv':'tt̄+W,Z','wb':'W → lν + b-jets','wl':'W → lν + light jets','z':'Z → νν, ll + jets','sig':'[g̃,χ̃₁⁰]:[900,150] [GeV]'}[datum.label]"}},
     "strokeDash": {"field": "k", "type": "nominal", "scale": {"domain": ["data","tot","mj","tt","st","ttv","wb","wl","z","sig"], "range": [[1,0],[1,0],[1,0],[1,0],[1,0],[1,0],[1,0],[1,0],[1,0],[2,1.5]]}, "legend": {"title": null, "labelExpr": "{'data':'Data','tot':'Total background','mj':'Multi-jets','tt':'tt̄→ ql,ll','st':'Single top','ttv':'tt̄+W,Z','wb':'W → lν + b-jets','wl':'W → lν + light jets','z':'Z → νν, ll + jets','sig':'[g̃,χ̃₁⁰]:[900,150] [GeV]'}[datum.label]"}}
    }},
   {"data": {"values": [{}]}, "mark": {"type": "text", "align": "left", "baseline": "middle", "fontSize": 13.5, "fontWeight": "bold", "fontStyle": "italic"},
    "encoding": {"x": {"datum": 0.45, "type": "quantitative", "axis": null}, "y": {"datum": 80000000, "type": "quantitative", "axis": null}, "text": {"value": "ATLAS"}}},
   {"data": {"values": [{}]}, "mark": {"type": "text", "align": "left", "baseline": "middle", "fontSize": 11},
    "encoding": {"x": {"datum": 0.4, "type": "quantitative", "axis": null}, "y": {"datum": 21000000, "type": "quantitative", "axis": null}, "text": {"value": "∫L dt = 20.3 fb⁻¹"}}},
   {"data": {"values": [{}]}, "mark": {"type": "text", "align": "left", "baseline": "middle", "fontSize": 11},
    "encoding": {"x": {"datum": 0.4, "type": "quantitative", "axis": null}, "y": {"datum": 5500000, "type": "quantitative", "axis": null}, "text": {"value": "√s = 8 TeV"}}},
   {"data": {"values": [{}]}, "mark": {"type": "text", "align": "left", "baseline": "middle", "fontSize": 11},
    "encoding": {"x": {"datum": 0.4, "type": "quantitative", "axis": null}, "y": {"datum": 1600000, "type": "quantitative", "axis": null}, "text": {"value": "≥ 2 b-jets"}}},
   {"data": {"values": [{}]}, "mark": {"type": "text", "align": "left", "baseline": "middle", "fontSize": 12},
    "encoding": {"x": {"datum": 8.2, "type": "quantitative", "axis": null}, "y": {"datum": 1700, "type": "quantitative", "axis": null}, "text": {"value": "7 jets pₜ > 50 GeV"}}}
  ]},
 {"width": 269, "height": 48,
  "resolve": {"axis": {"x": "independent", "y": "independent"}},
  "layer": [
   {"data": {"values": [{}]}, "mark": {"type": "rule", "color": "#777777", "strokeWidth": 0.7, "strokeDash": [1.5,2]},
    "encoding": {"y": {"datum": 0.5, "type": "quantitative", "scale": {"domain": [0,2], "nice": false, "zero": false}, "axis": null}}},
   {"data": {"values": [{}]}, "mark": {"type": "rule", "color": "#777777", "strokeWidth": 0.7, "strokeDash": [1.5,2]},
    "encoding": {"y": {"datum": 1.5, "type": "quantitative", "axis": null}}},
   {"data": {"values": [{}]}, "mark": {"type": "rule", "color": "#E8201A", "strokeWidth": 0.8, "strokeDash": [2,2]},
    "encoding": {"y": {"datum": 1, "type": "quantitative", "axis": null}}},
   {"data": {"name": "bins"}, "transform": [{"filter": "datum.p=='c'"}],
    "mark": {"type": "rule", "clip": true, "color": "black", "strokeWidth": 1.4},
    "encoding": {
     "x": {"field": "lo", "type": "quantitative", "scale": {"domain": [0,16], "nice": false, "zero": false}, "axis": {"orient": "bottom", "zindex": 1, "values": [0,0.4,0.8,1.2,1.6,2,2.4,2.8,3.2,3.6,4,4.4,4.8,5.2,5.6,6,6.4,6.8,7.2,7.6,8,8.4,8.8,9.2,9.6,10,10.4,10.8,11.2,11.6,12,12.4,12.8,13.2,13.6,14,14.4,14.8,15.2,15.6,16], "labelExpr": "abs(datum.value/2-round(datum.value/2))<0.01 ? format(datum.value,'d') : ''", "labelFontSize": 11, "labelPadding": 8, "tickSize": {"condition": {"test": "abs(datum.value/2-round(datum.value/2))<0.01", "value": -5}, "value": -2.5}, "title": "Eₜᵐⁱˢˢ/√Hₜ [GeV¹/²]", "titleAnchor": "end", "titleFontSize": 12, "titlePadding": 1}},
     "x2": {"field": "hi"},
     "y": {"field": "r", "type": "quantitative", "scale": {"domain": [0,2], "nice": false, "zero": false}, "axis": {"orient": "left", "zindex": 1, "values": [0,0.1,0.2,0.3,0.4,0.5,0.6,0.7,0.8,0.9,1,1.1,1.2,1.3,1.4,1.5,1.6,1.7,1.8,1.9,2], "labelExpr": "abs(datum.value*2-round(datum.value*2))<0.01 ? format(datum.value,'~g') : ''", "labelFontSize": 7, "labelPadding": 8, "tickSize": {"condition": {"test": "abs(datum.value*2-round(datum.value*2))<0.01", "value": -6}, "value": -3}, "title": "Data / Prediction", "titleFontSize": 6.5, "titlePadding": 3}}
    }},
   {"data": {"name": "bins"}, "transform": [{"filter": "datum.p=='c'"}],
    "mark": {"type": "rule", "clip": true, "color": "black", "strokeWidth": 1.4},
    "encoding": {
     "x": {"field": "c", "type": "quantitative", "axis": {"orient": "top", "zindex": 1, "values": [0,0.4,0.8,1.2,1.6,2,2.4,2.8,3.2,3.6,4,4.4,4.8,5.2,5.6,6,6.4,6.8,7.2,7.6,8,8.4,8.8,9.2,9.6,10,10.4,10.8,11.2,11.6,12,12.4,12.8,13.2,13.6,14,14.4,14.8,15.2,15.6,16], "labels": false, "title": null, "tickSize": {"condition": {"test": "abs(datum.value/2-round(datum.value/2))<0.01", "value": -5}, "value": -2.5}}},
     "y": {"field": "rl", "type": "quantitative", "axis": {"orient": "right", "zindex": 1, "values": [0,0.1,0.2,0.3,0.4,0.5,0.6,0.7,0.8,0.9,1,1.1,1.2,1.3,1.4,1.5,1.6,1.7,1.8,1.9,2], "labels": false, "title": null, "tickSize": {"condition": {"test": "abs(datum.value*2-round(datum.value*2))<0.01", "value": -6}, "value": -3}}},
     "y2": {"field": "rh"}
    }},
   {"data": {"name": "bins"}, "transform": [{"filter": "datum.p=='c'"}],
    "mark": {"type": "point", "clip": true, "filled": true, "color": "black", "opacity": 1, "size": 20},
    "encoding": {"x": {"field": "c", "type": "quantitative", "axis": null}, "y": {"field": "r", "type": "quantitative", "axis": null}}}
  ]}
 ]}
]
}
